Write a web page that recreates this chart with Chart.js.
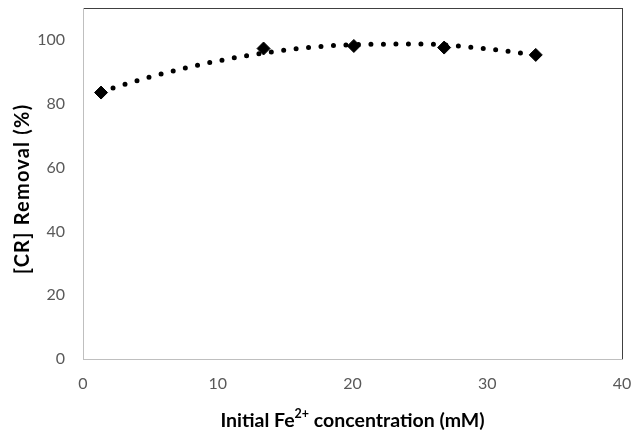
<!DOCTYPE html>
<html>
<head>
<meta charset="utf-8">
<script src="https://cdn.jsdelivr.net/npm/chart.js@4.4.1/dist/chart.umd.min.js"></script>
<style>
html,body{margin:0;padding:0;background:#fff;}
#wrap{width:633px;height:433px;position:relative;}
</style>
</head>
<body>
<div id="wrap"><canvas id="removalChart" width="633" height="433"></canvas></div>
<script>

/* ---------- DATA ---------- */

const feConc = [1.34, 13.4, 20.1, 26.8, 33.6];
const crRemoval = [83.5, 97.3, 98.1, 97.6, 95.3];

/* trendline */
const trendX = [1.34, 5, 10, 15, 20, 25, 30, 33.6];
const trendY = [83.8, 88.4, 93.4, 96.8, 98.5, 98.7, 97.2, 95.2];

const xTicks = [0, 10, 20, 30, 40];
const yTicks = [0, 20, 40, 60, 80, 100];

const xTitleMain = "Initial Fe";
const xTitleSup = "2+";
const xTitleEnd = " concentration (mM)";
const yTitle = "[CR] Removal (%)";


/* ---------- PLOT BOX + AXIS TITLES ---------- */

const frame = {
id:"frame",
beforeDraw(chart){
const a = chart.chartArea;
const c = chart.ctx;
c.save();
c.strokeStyle = "#404040";
c.lineWidth = 1;
c.strokeRect(Math.round(a.left)+0.5, Math.round(a.top)+0.5, Math.round(a.right-a.left), Math.round(a.bottom-a.top));
c.restore();
},
afterDraw(chart){
const c = chart.ctx;
c.save();
c.fillStyle = "#000";
c.textBaseline = "middle";

// x title with superscript
const big = "bold 19.5px Lato";
const small = "bold 12.5px Lato";
c.font = big;
const w1 = c.measureText(xTitleMain).width;
const w3 = c.measureText(xTitleEnd).width;
c.font = small;
const w2 = c.measureText(xTitleSup).width;
let x = 352.5 - (w1 + w2 + w3) / 2;
const y = 421;
c.font = big;
c.textAlign = "left";
c.fillText(xTitleMain, x, y);
x += w1;
c.font = small;
c.fillText(xTitleSup, x, y - 7);
x += w2;
c.font = big;
c.fillText(xTitleEnd, x, y);

// y title
c.translate(23, 189);
c.rotate(-Math.PI / 2);
c.textAlign = "center";
c.font = "bold 20px Lato";
c.letterSpacing = "1.2px";
c.fillText(yTitle, 0, 0);
c.restore();
}
};


/* ---------- CHART ---------- */

new Chart(document.getElementById("removalChart"), {
type:"scatter",
data:{
datasets:[
{
label:"CR removal",
data:feConc.map((v,i)=>({x:v, y:crRemoval[i]})),
pointStyle:"rectRot",
pointRadius:6.5,
pointBorderWidth:1,
backgroundColor:"#000",
borderColor:"#000",
showLine:false
},
{
label:"Trend",
data:trendX.map((v,i)=>({x:v, y:trendY[i]})),
showLine:true,
pointRadius:0,
borderColor:"#000",
borderWidth:5,
borderDash:[0,12.5],
borderCapStyle:"round",
cubicInterpolationMode:"monotone",
fill:false
}
]
},
options:{
responsive:false,
animation:false,
devicePixelRatio:1,
layout:{padding:{left:0, top:8, right:11, bottom:0}},
plugins:{
legend:{display:false},
tooltip:{enabled:false}
},
scales:{
x:{
type:"linear",
min:0,
max:40,
afterFit(s){ s.height = 74; s.paddingLeft = 0; s.paddingRight = 0; },
afterBuildTicks(s){ s.ticks = xTicks.map(v=>({value:v})); },
grid:{display:false, drawTicks:false},
border:{display:true, color:"#bfbfbf", width:1},
ticks:{color:"#595959", font:{family:"Lato", size:16}, padding:15}
},
y:{
type:"linear",
min:0,
max:110,
afterFit(s){ s.width = 83; s.paddingTop = 0; s.paddingBottom = 0; },
afterBuildTicks(s){ s.ticks = yTicks.map(v=>({value:v})); },
grid:{display:false, drawTicks:false},
border:{display:true, color:"#bfbfbf", width:1},
ticks:{color:"#595959", font:{family:"Lato", size:16}, padding:18}
}
}
},
plugins:[frame]
});

</script>
</body>
</html>
